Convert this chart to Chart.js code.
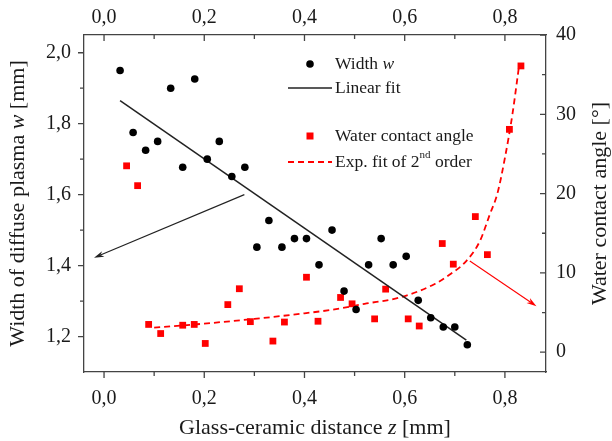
<!DOCTYPE html>
<html>
<head>
<meta charset="utf-8">
<script src="https://cdn.jsdelivr.net/npm/chart.js@4.4.0/dist/chart.umd.min.js"></script>
<style>
  html, body { margin: 0; padding: 0; background: #fff; }
</style>
</head>
<body>
<canvas id="myChart" width="612" height="441"></canvas>
<script>
// Width of diffuse plasma (left axis)
const widthZ = [0.032, 0.058, 0.083, 0.107, 0.133, 0.157, 0.181, 0.206, 0.23, 0.255, 0.281, 0.305, 0.329, 0.355, 0.38,
  0.404, 0.429, 0.455, 0.479, 0.503, 0.528, 0.553, 0.577, 0.603, 0.627, 0.652, 0.677, 0.70, 0.725];
const widthW = [1.95, 1.775, 1.725, 1.75, 1.90, 1.677, 1.926, 1.70, 1.75, 1.651, 1.677, 1.452, 1.527, 1.452, 1.476,
  1.476, 1.402, 1.50, 1.328, 1.276, 1.402, 1.476, 1.402, 1.426, 1.302, 1.253, 1.227, 1.227, 1.177];

// Water contact angle (right axis)
const angleZ = [0.045, 0.067, 0.089, 0.113, 0.157, 0.18, 0.202, 0.247, 0.27, 0.292, 0.337, 0.36, 0.404, 0.427,
  0.472, 0.495, 0.54, 0.562, 0.607, 0.629, 0.675, 0.697, 0.741, 0.765, 0.809, 0.832];
const angleA = [23.5, 21.0, 3.5, 2.35, 3.4, 3.5, 1.1, 6.0, 8.0, 3.85, 1.4, 3.8, 9.45, 3.9,
  6.9, 6.1, 4.2, 7.95, 4.2, 3.3, 13.7, 11.1, 17.1, 12.3, 28.1, 36.1];

// fits
const linFitZ = [0.032, 0.723];
const linFitW = [1.865, 1.19];
const expFitZ = [0.10, 0.20, 0.30, 0.40, 0.46, 0.52, 0.59, 0.66, 0.69, 0.72, 0.75, 0.77, 0.785, 0.80, 0.815, 0.828];
const expFitA = [3.1, 3.6, 4.2, 4.9, 5.4, 6.1, 6.9, 8.6, 9.8, 11.3, 14.0, 17.4, 20.0, 24.5, 30.0, 36.0];

// arrows (data coords): [z, value]
const blackArrow = [[0.28, 1.60], [-0.02, 1.422]];
const redArrow = [[0.73, 11.5], [0.863, 5.8]];

// ticks
const xTicks = [0, 0.2, 0.4, 0.6, 0.8];
const xMinor = [0.1, 0.3, 0.5, 0.7];
const yTicks = [1.2, 1.4, 1.6, 1.8, 2.0];
const yMinor = [1.3, 1.5, 1.7, 1.9];
const y2Ticks = [0, 10, 20, 30, 40];
const y2Minor = [5, 15, 25, 35];

const SERIF = 'Liberation Serif';
const axisColor = '#444';
const textColor = '#1a1a1a';
const red = '#ff0000';

const zip = (a, b) => a.map((v, i) => ({ x: v, y: b[i] }));
const comma = v => v.toFixed(1).replace('.', ',');

function setTicks(list) {
  return function (scale) { scale.ticks = list.map(v => ({ value: v })); };
}

function axisOpts(extra) {
  return Object.assign({
    type: 'linear',
    grid: { display: false, drawTicks: false },
    border: { display: true, color: axisColor, width: 1.3 },
  }, extra);
}

// draws text made of plain / italic / superscript pieces
function drawParts(ctx, parts, x, y, size, align) {
  const fontOf = p => (p.italic ? 'italic ' : '') + (p.sup ? Math.round(size * 0.62) : size) + 'px "' + SERIF + '"';
  let total = 0;
  parts.forEach(p => { ctx.font = fontOf(p); p.w = ctx.measureText(p.t).width; total += p.w; });
  let cx = align === 'center' ? x - total / 2 : x;
  ctx.textBaseline = 'middle';
  ctx.textAlign = 'left';
  parts.forEach(p => {
    ctx.font = fontOf(p);
    ctx.fillText(p.t, cx, p.sup ? y - size * 0.38 : y);
    cx += p.w;
  });
}

function drawArrow(ctx, x1, y1, x2, y2, color) {
  const ang = Math.atan2(y2 - y1, x2 - x1);
  const len = 10, hw = 3;
  ctx.save();
  ctx.strokeStyle = color;
  ctx.fillStyle = color;
  ctx.lineWidth = 1.1;
  ctx.beginPath();
  ctx.moveTo(x1, y1);
  ctx.lineTo(x2 - Math.cos(ang) * len * 0.7, y2 - Math.sin(ang) * len * 0.7);
  ctx.stroke();
  ctx.beginPath();
  ctx.moveTo(x2, y2);
  ctx.lineTo(x2 - Math.cos(ang) * len - Math.sin(ang) * hw, y2 - Math.sin(ang) * len + Math.cos(ang) * hw);
  ctx.lineTo(x2 - Math.cos(ang) * len * 0.7, y2 - Math.sin(ang) * len * 0.7);
  ctx.lineTo(x2 - Math.cos(ang) * len + Math.sin(ang) * hw, y2 - Math.sin(ang) * len - Math.cos(ang) * hw);
  ctx.closePath();
  ctx.fill();
  ctx.restore();
}

// tick marks: left & bottom outward, top & right inward
const tickMarks = {
  id: 'tickMarks',
  afterDraw(chart) {
    const ctx = chart.ctx;
    const s = chart.scales;
    const a = chart.chartArea;
    ctx.save();
    ctx.strokeStyle = axisColor;
    ctx.lineWidth = 1.3;
    ctx.beginPath();
    const hor = (vals, len, yBase, dir) => vals.forEach(v => {
      const px = s.x.getPixelForValue(v);
      ctx.moveTo(px, yBase); ctx.lineTo(px, yBase + dir * len);
    });
    const ver = (scale, vals, len, xBase, dir) => vals.forEach(v => {
      const py = scale.getPixelForValue(v);
      ctx.moveTo(xBase, py); ctx.lineTo(xBase + dir * len, py);
    });
    hor(xTicks, 6, a.bottom, 1); hor(xMinor, 4, a.bottom, 1);
    hor(xTicks, 6, a.top, 1); hor(xMinor, 4, a.top, 1);
    ver(s.y, yTicks, 6, a.left, -1); ver(s.y, yMinor, 4, a.left, -1);
    ver(s.y2, y2Ticks, 6, a.right, -1); ver(s.y2, y2Minor, 4, a.right, -1);
    ctx.stroke();
    ctx.restore();
  }
};

const decorations = {
  id: 'decorations',
  afterDraw(chart) {
    const ctx = chart.ctx;
    const s = chart.scales;
    const a = chart.chartArea;

    // arrows
    drawArrow(ctx, s.x.getPixelForValue(blackArrow[0][0]), s.y.getPixelForValue(blackArrow[0][1]),
      s.x.getPixelForValue(blackArrow[1][0]), s.y.getPixelForValue(blackArrow[1][1]), '#222');
    drawArrow(ctx, s.x.getPixelForValue(redArrow[0][0]), s.y2.getPixelForValue(redArrow[0][1]),
      s.x.getPixelForValue(redArrow[1][0]), s.y2.getPixelForValue(redArrow[1][1]), red);

    ctx.save();
    ctx.fillStyle = textColor;
    // axis titles
    const midY = (a.top + a.bottom) / 2;
    drawParts(ctx, [{ t: 'Glass-ceramic distance ' }, { t: 'z', italic: true }, { t: ' [mm]' }],
      (a.left + a.right) / 2, 428, 22, 'center');
    ctx.save();
    ctx.translate(18, midY);
    ctx.rotate(-Math.PI / 2);
    drawParts(ctx, [{ t: 'Width of diffuse plasma ' }, { t: 'w', italic: true }, { t: ' [mm]' }], 0, 0, 22, 'center');
    ctx.restore();
    ctx.save();
    ctx.translate(600, midY);
    ctx.rotate(-Math.PI / 2);
    drawParts(ctx, [{ t: 'Water contact angle [°]' }], 0, 0, 22, 'center');
    ctx.restore();

    // legend
    const lx = 310, tx = 335, fs = 17.5;
    ctx.fillStyle = '#000';
    ctx.beginPath(); ctx.arc(lx, 64, 3.8, 0, Math.PI * 2); ctx.fill();
    ctx.fillStyle = textColor;
    drawParts(ctx, [{ t: 'Width ' }, { t: 'w', italic: true }], tx, 64, fs, 'left');

    ctx.strokeStyle = '#222'; ctx.lineWidth = 1.5;
    ctx.beginPath(); ctx.moveTo(288, 88); ctx.lineTo(332, 88); ctx.stroke();
    drawParts(ctx, [{ t: 'Linear fit' }], tx, 88, fs, 'left');

    ctx.fillStyle = red;
    ctx.fillRect(lx - 3.5, 136 - 3.5, 7, 7);
    ctx.fillStyle = textColor;
    drawParts(ctx, [{ t: 'Water contact angle' }], tx, 136, fs, 'left');

    ctx.strokeStyle = red; ctx.lineWidth = 1.8; ctx.setLineDash([6, 4]);
    ctx.beginPath(); ctx.moveTo(288, 162); ctx.lineTo(332, 162); ctx.stroke();
    ctx.setLineDash([]);
    drawParts(ctx, [{ t: 'Exp. fit of 2' }, { t: 'nd', sup: true }, { t: ' order' }], tx, 162, fs, 'left');
    ctx.restore();
  }
};

const data = {
  datasets: [
    {
      label: 'Width w',
      data: zip(widthZ, widthW),
      yAxisID: 'y',
      showLine: false,
      pointRadius: 3.8,
      pointBackgroundColor: '#000',
      pointBorderWidth: 0,
    },
    {
      label: 'Linear fit',
      data: zip(linFitZ, linFitW),
      yAxisID: 'y',
      showLine: true,
      borderColor: '#222',
      borderWidth: 1.5,
      pointRadius: 0,
    },
    {
      label: 'Water contact angle',
      data: zip(angleZ, angleA),
      yAxisID: 'y2',
      showLine: false,
      pointStyle: 'rect',
      pointRadius: 4.8,
      pointBackgroundColor: red,
      pointBorderWidth: 0,
    },
    {
      label: 'Exp. fit of 2nd order',
      data: zip(expFitZ, expFitA),
      yAxisID: 'y2',
      showLine: true,
      borderColor: red,
      borderWidth: 1.8,
      borderDash: [6, 4],
      cubicInterpolationMode: 'monotone',
      pointRadius: 0,
    },
  ],
};

const tickFont = { family: SERIF, size: 20 };

const config = {
  type: 'scatter',
  data: data,
  options: {
    responsive: false,
    animation: false,
    layout: { padding: 0 },
    plugins: { legend: { display: false }, tooltip: { enabled: false } },
    scales: {
      x: axisOpts({
        position: 'bottom', min: -0.04, max: 0.882,
        ticks: { font: tickFont, color: textColor, padding: 15, maxRotation: 0, callback: v => comma(v) },
        afterBuildTicks: setTicks(xTicks),
        afterFit: s => { s.height = 69; },
      }),
      x2: axisOpts({
        position: 'top', axis: 'x', min: -0.04, max: 0.882,
        ticks: { font: tickFont, color: textColor, padding: 5, maxRotation: 0, callback: v => comma(v) },
        afterBuildTicks: setTicks(xTicks),
        afterFit: s => { s.height = 35; },
      }),
      y: axisOpts({
        position: 'left', min: 1.10, max: 2.05,
        ticks: { font: tickFont, color: textColor, padding: 13, callback: v => comma(v) },
        afterBuildTicks: setTicks(yTicks),
        afterFit: s => { s.width = 84; },
      }),
      y2: axisOpts({
        position: 'right', min: -2.5, max: 40,
        ticks: { font: tickFont, color: textColor, padding: 10, callback: v => String(v) },
        afterBuildTicks: setTicks(y2Ticks),
        afterFit: s => { s.width = 66; },
      }),
    },
  },
  plugins: [tickMarks, decorations],
};

const ctx = document.getElementById('myChart').getContext('2d');
new Chart(ctx, config);
</script>
</body>
</html>
